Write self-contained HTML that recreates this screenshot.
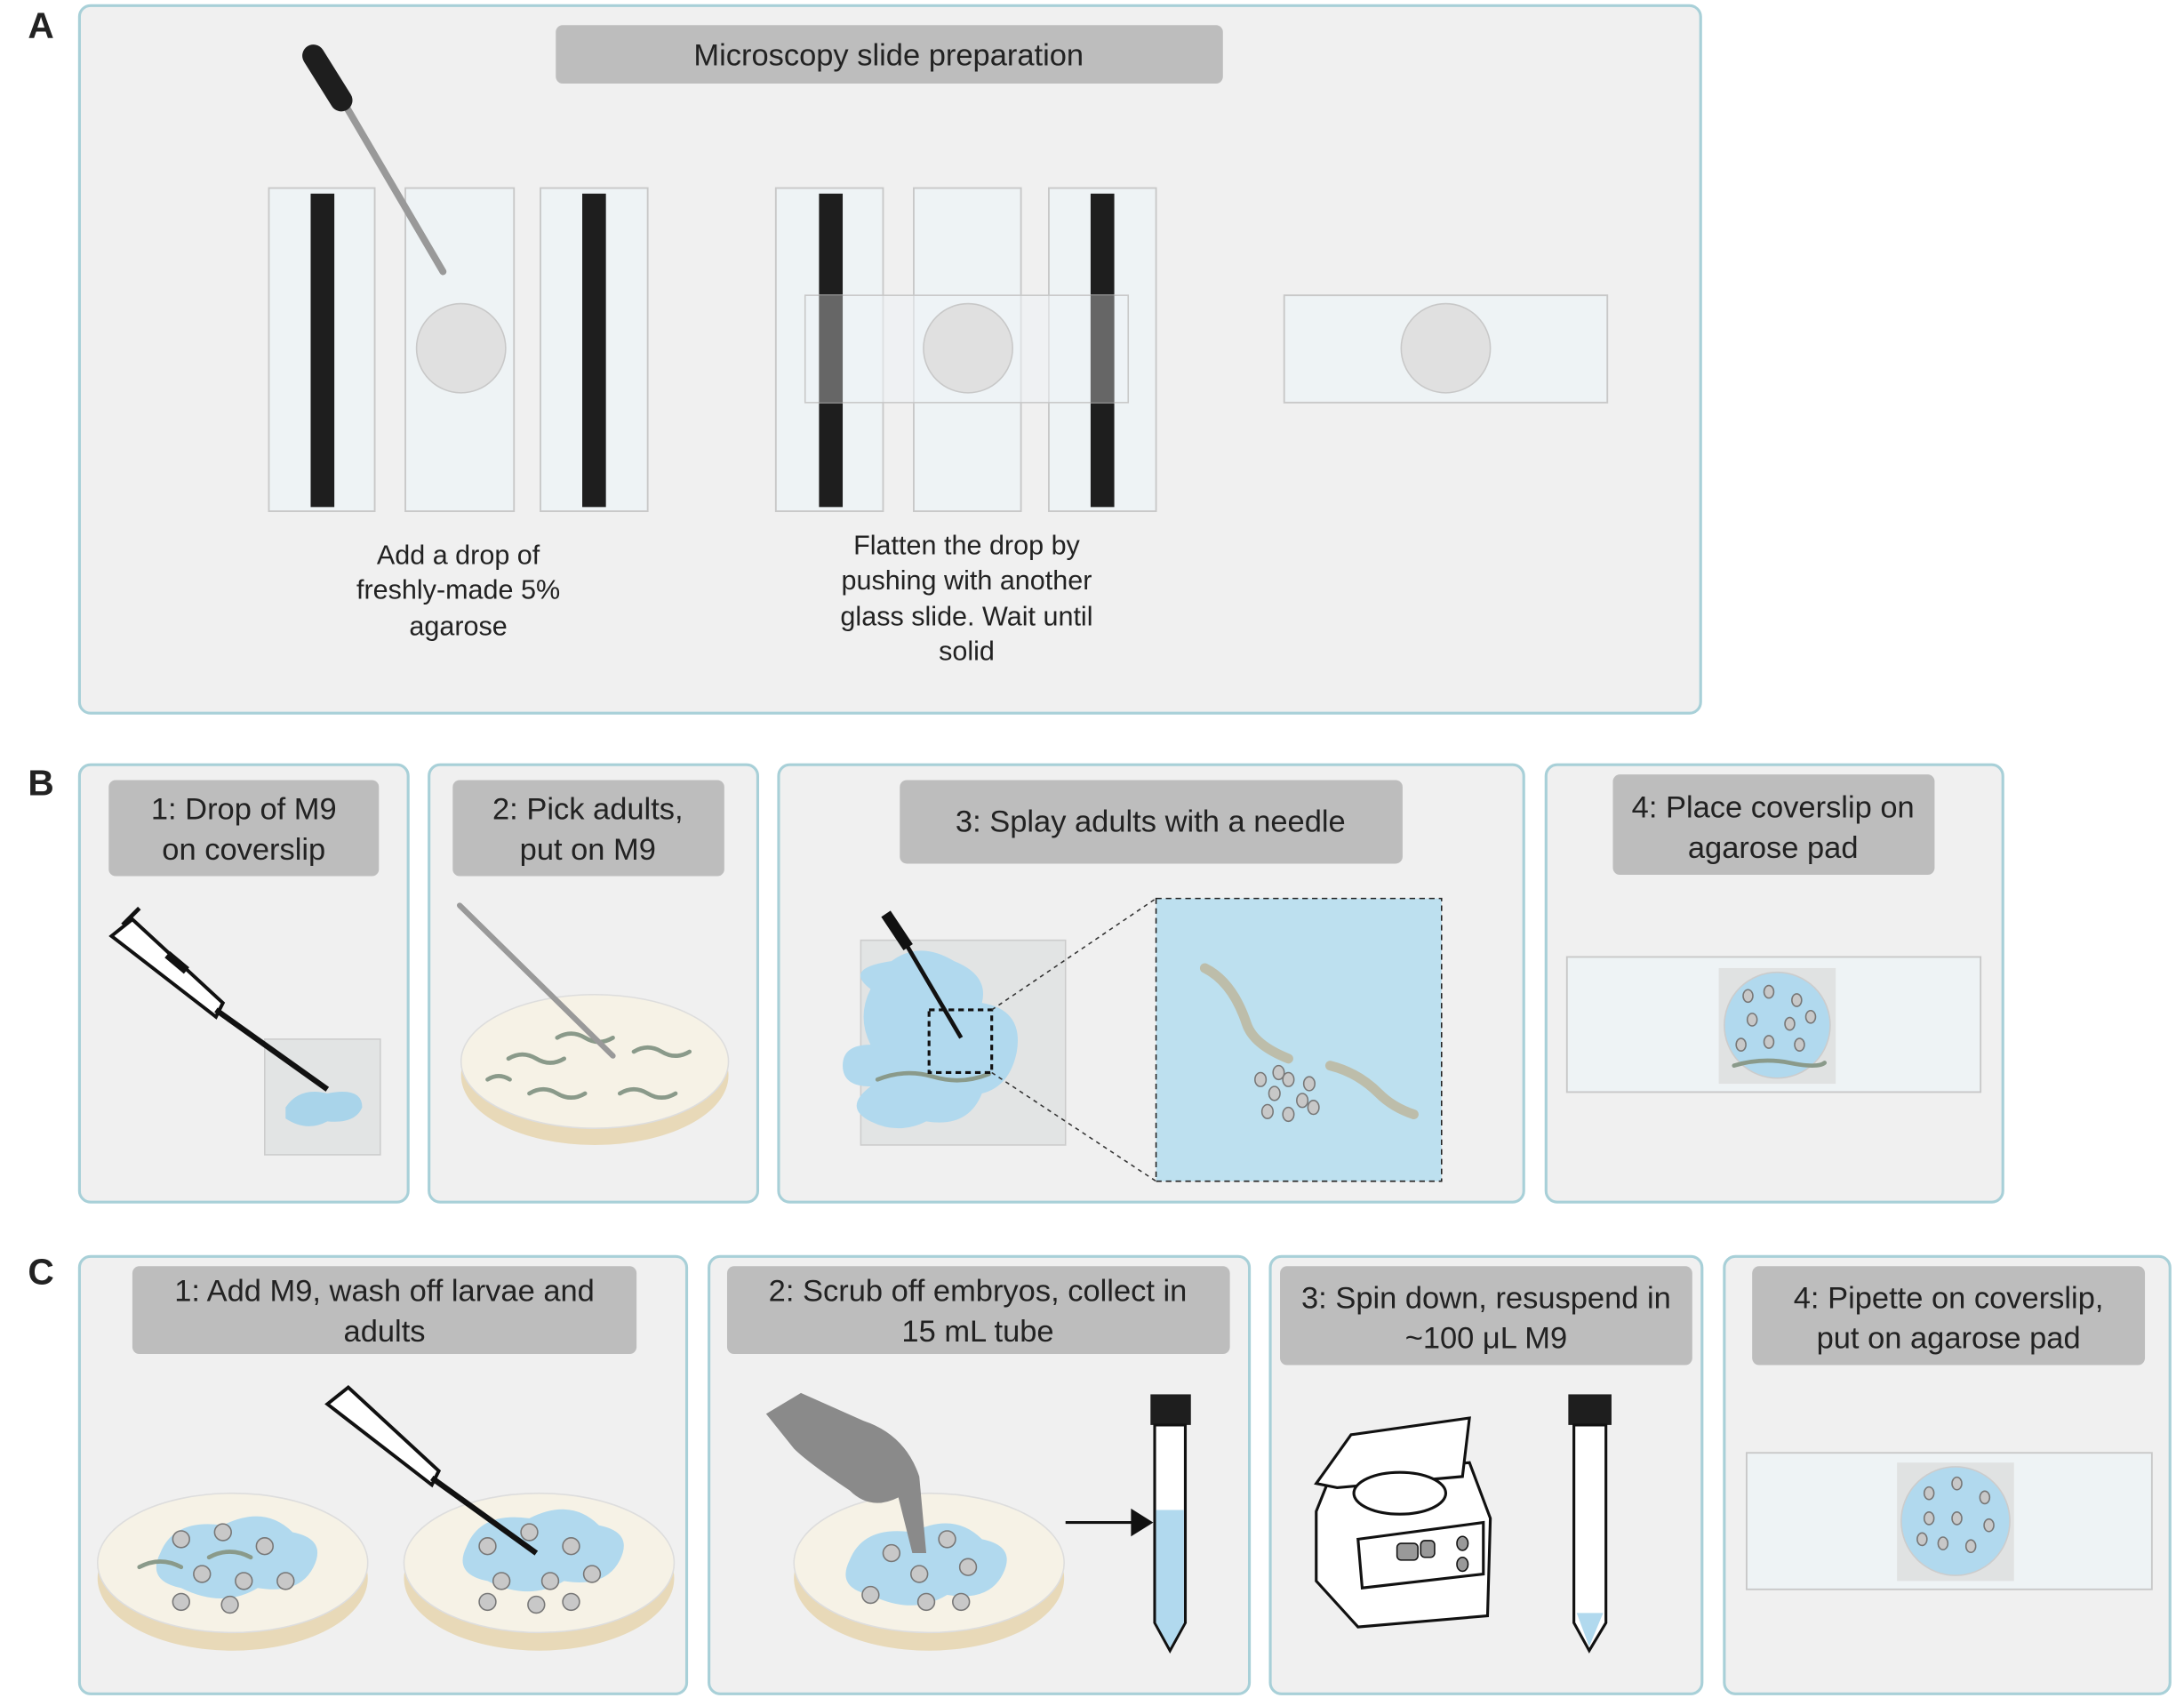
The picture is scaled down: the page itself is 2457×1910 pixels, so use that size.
<!DOCTYPE html>
<html><head><meta charset="utf-8"><style>
html,body{margin:0;padding:0;background:#fff;}
svg{display:block;}
text{font-family:"Liberation Sans",Arial,sans-serif;fill:#222;}
.box{fill:#f0f0f0;stroke:#a8d0d8;stroke-width:2;}
.tb{fill:#bdbdbd;}
.tt{font-size:22px;text-anchor:middle;}
.bt{font-size:19.5px;text-anchor:middle;}
.lab{font-size:26px;font-weight:bold;}
.slide{fill:#eef3f5;stroke:#c8c8c8;stroke-width:1.2;}
.emb{fill:#c8c8c8;stroke:#777;stroke-width:1;}
.worm{fill:none;stroke:#8a9a8a;stroke-width:3;stroke-linecap:round;}
</style></head><body>
<svg width="2457" height="1910" viewBox="0 0 1568 1219" xmlns="http://www.w3.org/2000/svg">
<rect width="1568" height="1219" fill="#fff"/>
<!-- Labels -->
<text class="lab" x="20" y="27">A</text>
<text class="lab" x="20" y="571">B</text>
<text class="lab" x="20" y="922">C</text>

<!-- Panel A -->
<rect class="box" x="57" y="4" width="1164" height="508" rx="8"/>
<rect class="tb" x="399" y="18" width="479" height="42" rx="5"/>
<text class="tt" x="638" y="47">Microscopy slide preparation</text>
<!-- group1 -->
<rect class="slide" x="193" y="135" width="76" height="232"/>
<rect x="223" y="139" width="17" height="225" fill="#1e1e1e"/>
<rect class="slide" x="291" y="135" width="78" height="232"/>
<circle cx="331" cy="250" r="32" fill="#e0e0e0" stroke="#c8c8c8"/>
<rect class="slide" x="388" y="135" width="77" height="232"/>
<rect x="418" y="139" width="17" height="225" fill="#1e1e1e"/>
<line x1="240" y1="62" x2="318" y2="195" stroke="#999" stroke-width="5" stroke-linecap="round"/>
<line x1="225" y1="40" x2="245" y2="72" stroke="#1e1e1e" stroke-width="16" stroke-linecap="round"/>
<text class="bt" x="329" y="405">Add a drop of</text>
<text class="bt" x="329" y="430">freshly-made 5%</text>
<text class="bt" x="329" y="456">agarose</text>
<!-- group2 -->
<rect class="slide" x="557" y="135" width="77" height="232"/>
<rect x="588" y="139" width="17" height="225" fill="#1e1e1e"/>
<rect class="slide" x="656" y="135" width="77" height="232"/>
<rect class="slide" x="753" y="135" width="77" height="232"/>
<rect x="783" y="139" width="17" height="225" fill="#1e1e1e"/>
<rect x="578" y="212" width="232" height="77" fill="#eef3f5" fill-opacity="0.55" stroke="#c8c8c8"/>
<rect x="588" y="212" width="17" height="77" fill="#666"/>
<rect x="783" y="212" width="17" height="77" fill="#666"/>
<circle cx="695" cy="250" r="32" fill="#e0e0e0" stroke="#c8c8c8"/>
<text class="bt" x="694" y="398">Flatten the drop by</text>
<text class="bt" x="694" y="423">pushing with another</text>
<text class="bt" x="694" y="449">glass slide. Wait until</text>
<text class="bt" x="694" y="474">solid</text>
<!-- group3 -->
<rect class="slide" x="922" y="212" width="232" height="77"/>
<circle cx="1038" cy="250" r="32" fill="#e0e0e0" stroke="#c8c8c8"/>

<!-- Panel B -->
<rect class="box" x="57" y="549" width="236" height="314" rx="8"/>
<rect class="box" x="308" y="549" width="236" height="314" rx="8"/>
<rect class="box" x="559" y="549" width="535" height="314" rx="8"/>
<rect class="box" x="1110" y="549" width="328" height="314" rx="8"/>
<rect class="tb" x="78" y="560" width="194" height="69" rx="5"/>
<text class="tt" x="175" y="588">1: Drop of M9</text><text class="tt" x="175" y="617">on coverslip</text>
<rect class="tb" x="325" y="560" width="195" height="69" rx="5"/>
<text class="tt" x="422" y="588">2: Pick adults,</text><text class="tt" x="422" y="617">put on M9</text>
<rect class="tb" x="646" y="560" width="361" height="60" rx="5"/>
<text class="tt" x="826" y="597">3: Splay adults with a needle</text>
<rect class="tb" x="1158" y="556" width="231" height="72" rx="5"/>
<text class="tt" x="1273" y="587">4: Place coverslip on</text><text class="tt" x="1273" y="616">agarose pad</text>
<!-- B1 -->
<rect x="190" y="746" width="83" height="83" fill="#e2e4e4" stroke="#ccc"/>
<path d="M205 795 q10-15 30-10 q25-5 25 10 q-5 12-25 10 q-15 8-30-2z" fill="#a9d4ea"/>
<polygon points="80,672 95,660 160,720 155,730" fill="#fff" stroke="#111" stroke-width="2.5"/>
<line x1="155" y1="725" x2="235" y2="782" stroke="#111" stroke-width="4"/>
<rect x="118" y="688" width="18" height="6" fill="#111" transform="rotate(40 127 691)"/>
<line x1="88" y1="664" x2="100" y2="652" stroke="#111" stroke-width="3"/>
<!-- B2 -->
<ellipse cx="427" cy="772" rx="96" ry="50" fill="#e8d9b8"/>
<ellipse cx="427" cy="762" rx="96" ry="48" fill="#f6f2e6" stroke="#ddd"/>
<path class="worm" d="M365 760 q10-6 20 0 t20 0"/><path class="worm" d="M400 745 q10-6 20 0 t20 0"/>
<path class="worm" d="M455 755 q10-6 20 0 t20 0"/><path class="worm" d="M380 785 q10-6 20 0 t20 0"/>
<path class="worm" d="M445 785 q10-6 20 0 t20 0"/><path class="worm" d="M350 775 q8-5 16 0"/>
<line x1="330" y1="650" x2="440" y2="758" stroke="#999" stroke-width="4" stroke-linecap="round"/>
<!-- B3 -->
<rect x="618" y="675" width="147" height="147" fill="#e2e4e4" stroke="#ccc"/>
<path d="M640 690 q20-15 45 0 q25 10 20 30 q30 5 25 35 q-5 25-25 30 q-10 25-40 20 q-20 10-40 0 q-20-10 0-25 q-20 0-20-15 q0-15 20-15 q-10-20 0-40 q-20-15 15-20z" fill="#b1d9ee"/>
<path class="worm" d="M630 775 q20-8 40-2 t40-2"/>
<rect x="667" y="725" width="45" height="45" fill="none" stroke="#111" stroke-width="2" stroke-dasharray="4,3"/>
<line x1="712" y1="725" x2="830" y2="645" stroke="#333" stroke-dasharray="3,3"/>
<line x1="712" y1="770" x2="830" y2="848" stroke="#333" stroke-dasharray="3,3"/>
<line x1="640" y1="660" x2="690" y2="745" stroke="#111" stroke-width="3"/>
<line x1="636" y1="656" x2="652" y2="680" stroke="#111" stroke-width="8"/>
<rect x="830" y="645" width="205" height="203" fill="#bde0ef" stroke="#222" stroke-dasharray="4,3"/>
<path d="M865 695 q20 10 30 40 q5 15 30 25" fill="none" stroke="#bdbdaa" stroke-width="7" stroke-linecap="round"/>
<path d="M955 765 q20 5 35 20 q10 10 25 15" fill="none" stroke="#bdbdaa" stroke-width="7" stroke-linecap="round"/>
<g class="emb"><ellipse cx="905" cy="775" rx="4" ry="5"/><ellipse cx="915" cy="785" rx="4" ry="5"/><ellipse cx="925" cy="775" rx="4" ry="5"/><ellipse cx="935" cy="790" rx="4" ry="5"/><ellipse cx="910" cy="798" rx="4" ry="5"/><ellipse cx="925" cy="800" rx="4" ry="5"/><ellipse cx="940" cy="778" rx="4" ry="5"/><ellipse cx="918" cy="770" rx="4" ry="5"/><ellipse cx="943" cy="795" rx="4" ry="5"/></g>
<!-- B4 -->
<rect class="slide" x="1125" y="687" width="297" height="97"/>
<rect x="1234" y="695" width="84" height="83" fill="#e0e2e2"/>
<circle cx="1276" cy="736" r="38" fill="#b1d9ee" stroke="#ccc"/>
<g class="emb"><ellipse cx="1255" cy="715" rx="3.5" ry="4.5"/><ellipse cx="1270" cy="712" rx="3.5" ry="4.5"/><ellipse cx="1290" cy="718" rx="3.5" ry="4.5"/><ellipse cx="1258" cy="732" rx="3.5" ry="4.5"/><ellipse cx="1285" cy="735" rx="3.5" ry="4.5"/><ellipse cx="1300" cy="730" rx="3.5" ry="4.5"/><ellipse cx="1270" cy="748" rx="3.5" ry="4.5"/><ellipse cx="1292" cy="750" rx="3.5" ry="4.5"/><ellipse cx="1250" cy="750" rx="3.5" ry="4.5"/></g>
<path class="worm" d="M1245 765 q20-6 40-2 t25 0"/>

<!-- Panel C -->
<rect class="box" x="57" y="902" width="436" height="314" rx="8"/>
<rect class="box" x="509" y="902" width="388" height="314" rx="8"/>
<rect class="box" x="912" y="902" width="310" height="314" rx="8"/>
<rect class="box" x="1238" y="902" width="320" height="314" rx="8"/>
<rect class="tb" x="95" y="909" width="362" height="63" rx="5"/>
<text class="tt" x="276" y="934">1: Add M9, wash off larvae and</text><text class="tt" x="276" y="963">adults</text>
<rect class="tb" x="522" y="909" width="361" height="63" rx="5"/>
<text class="tt" x="702" y="934">2: Scrub off embryos, collect in</text><text class="tt" x="702" y="963">15 mL tube</text>
<rect class="tb" x="919" y="909" width="296" height="71" rx="5"/>
<text class="tt" x="1067" y="939">3: Spin down, resuspend in</text><text class="tt" x="1067" y="968">~100 μL M9</text>
<rect class="tb" x="1258" y="909" width="282" height="71" rx="5"/>
<text class="tt" x="1399" y="939">4: Pipette on coverslip,</text><text class="tt" x="1399" y="968">put on agarose pad</text>
<!-- C1 dishes -->
<g>
<ellipse cx="167" cy="1133" rx="97" ry="52" fill="#e8d9b8"/>
<ellipse cx="167" cy="1122" rx="97" ry="50" fill="#f6f2e6" stroke="#ddd"/>
<path d="M115 1115 q10-25 45-20 q30-15 50 5 q25 5 15 25 q-10 20-40 15 q-25 15-55 0 q-25-5-15-25z" fill="#b1d9ee"/>
<ellipse cx="387" cy="1133" rx="97" ry="52" fill="#e8d9b8"/>
<ellipse cx="387" cy="1122" rx="97" ry="50" fill="#f6f2e6" stroke="#ddd"/>
<path d="M335 1110 q10-25 45-20 q30-15 50 5 q25 5 15 25 q-10 20-40 15 q-25 15-55 0 q-25-5-15-25z" fill="#b1d9ee"/>
<g class="emb"><circle cx="130" cy="1105" r="6"/><circle cx="160" cy="1100" r="6"/><circle cx="190" cy="1110" r="6"/><circle cx="145" cy="1130" r="6"/><circle cx="175" cy="1135" r="6"/><circle cx="205" cy="1135" r="6"/><circle cx="130" cy="1150" r="6"/><circle cx="165" cy="1152" r="6"/><circle cx="350" cy="1110" r="6"/><circle cx="380" cy="1100" r="6"/><circle cx="410" cy="1110" r="6"/><circle cx="360" cy="1135" r="6"/><circle cx="395" cy="1135" r="6"/><circle cx="425" cy="1130" r="6"/><circle cx="350" cy="1150" r="6"/><circle cx="385" cy="1152" r="6"/><circle cx="410" cy="1150" r="6"/></g>
<path class="worm" d="M100 1125 q15-8 30 0"/><path class="worm" d="M150 1118 q15-8 30 0"/>
<polygon points="235,1008 250,996 315,1056 310,1066" fill="#fff" stroke="#111" stroke-width="2.5"/>
<line x1="310" y1="1061" x2="385" y2="1115" stroke="#111" stroke-width="4"/>
</g>
<!-- C2 -->
<ellipse cx="667" cy="1133" rx="97" ry="52" fill="#e8d9b8"/>
<ellipse cx="667" cy="1122" rx="97" ry="50" fill="#f6f2e6" stroke="#ddd"/>
<path d="M610 1120 q10-25 45-20 q30-15 50 5 q25 5 15 25 q-10 20-40 15 q-25 15-55 0 q-25-5-15-25z" fill="#b1d9ee"/>
<g class="emb"><circle cx="640" cy="1115" r="6"/><circle cx="680" cy="1105" r="6"/><circle cx="695" cy="1125" r="6"/><circle cx="660" cy="1130" r="6"/><circle cx="625" cy="1145" r="6"/><circle cx="665" cy="1150" r="6"/><circle cx="690" cy="1150" r="6"/></g>
<path d="M550 1015 l25-15 l45 20 q30 10 40 40 l5 55 l-10 0 l-10-40 q-20 10-35-5 q-30-20-40-30z" fill="#8a8a8a"/>
<line x1="765" y1="1093" x2="815" y2="1093" stroke="#111" stroke-width="2"/>
<polygon points="812,1083 828,1093 812,1103" fill="#111"/>
<rect x="826" y="1001" width="29" height="22" fill="#1e1e1e"/>
<path d="M829 1023 L829 1165 L840 1185 L851 1165 L851 1023z" fill="#fff" stroke="#111" stroke-width="2"/>
<path d="M830 1084 L830 1165 L840 1183 L850 1165 L850 1084z" fill="#b1d9ee"/>
<!-- C3 centrifuge -->
<path d="M945 1085 L955 1060 L1055 1050 L1070 1090 L1068 1160 L975 1168 L945 1135z" fill="#fff" stroke="#111" stroke-width="2"/>
<path d="M945 1065 L970 1030 L1055 1018 L1050 1060 L960 1068z" fill="#fff" stroke="#111" stroke-width="2"/>
<ellipse cx="1005" cy="1072" rx="33" ry="15" fill="#fff" stroke="#111" stroke-width="2"/>
<path d="M975 1105 L1065 1093 L1065 1130 L978 1140z" fill="#fff" stroke="#111" stroke-width="2"/>
<rect x="1003" y="1108" width="15" height="12" rx="3" fill="#999" stroke="#111"/><rect x="1020" y="1106" width="10" height="12" rx="3" fill="#999" stroke="#111"/>
<ellipse cx="1050" cy="1108" rx="4" ry="5" fill="#999" stroke="#111"/><ellipse cx="1050" cy="1123" rx="4" ry="5" fill="#999" stroke="#111"/>
<rect x="1126" y="1001" width="31" height="22" fill="#1e1e1e"/>
<path d="M1130 1023 L1130 1165 L1141 1185 L1153 1165 L1153 1023z" fill="#fff" stroke="#111" stroke-width="2"/>
<path d="M1132 1158 L1141 1182 L1151 1158z" fill="#b1d9ee"/>
<!-- C4 -->
<rect class="slide" x="1254" y="1043" width="291" height="98"/>
<rect x="1362" y="1050" width="84" height="85" fill="#e0e2e2"/>
<circle cx="1404" cy="1092" r="39" fill="#b1d9ee" stroke="#ccc"/>
<g class="emb"><ellipse cx="1385" cy="1072" rx="3.5" ry="4.5"/><ellipse cx="1405" cy="1065" rx="3.5" ry="4.5"/><ellipse cx="1425" cy="1075" rx="3.5" ry="4.5"/><ellipse cx="1385" cy="1090" rx="3.5" ry="4.5"/><ellipse cx="1405" cy="1090" rx="3.5" ry="4.5"/><ellipse cx="1428" cy="1095" rx="3.5" ry="4.5"/><ellipse cx="1395" cy="1108" rx="3.5" ry="4.5"/><ellipse cx="1415" cy="1110" rx="3.5" ry="4.5"/><ellipse cx="1380" cy="1105" rx="3.5" ry="4.5"/></g>
</svg>
</body></html>
